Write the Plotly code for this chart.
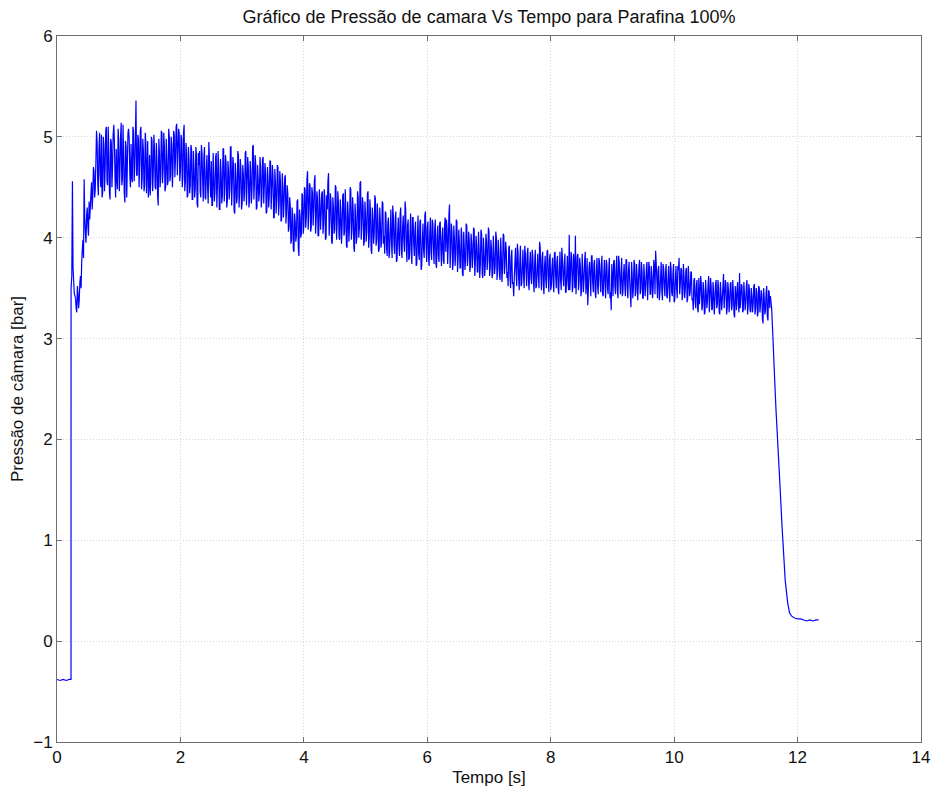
import plotly.graph_objects as go

# ---- chamber pressure record, paraffin 100% ----

# ignition transient: zero offset, step and first overshoot
t_pre = [0.00, 0.05, 0.10, 0.15, 0.20, 0.227, 0.228, 0.24, 0.25, 0.26, 0.28, 0.30]
p_pre = [-0.38, -0.39, -0.38, -0.39, -0.38, -0.38, 3.50, 3.62, 4.56, 3.70, 3.45, 3.40]

# steady burn, sampled every 0.01 s from t = 0.30 s.
# each block holds one second: the "a" list the even samples (0.30, 0.32, ...),
# the "b" list the odd samples in between (0.31, 0.33, ...)
burn_t0 = 0.30
burn_dt = 0.01

p_burn_01a = [3.40, 3.26, 3.45, 3.38, 3.62, 3.75, 3.98, 4.58, 4.05, 4.22,
              4.12, 4.36, 4.30, 4.55, 4.42, 4.66, 4.48, 5.06, 4.55, 4.88,
              4.62, 5.02, 4.45, 4.92, 4.68, 5.10, 4.52, 4.85, 4.38, 4.95,
              4.70, 5.12, 4.60, 4.88, 4.48, 4.97, 4.66, 5.14, 4.58, 4.82,
              4.35, 4.90, 4.72, 5.08, 4.62, 4.93, 4.55, 5.05, 4.70, 5.36]
p_burn_01b = [3.30, 3.52, 3.30, 3.55, 3.50, 3.88, 3.80, 4.20, 3.95, 4.30,
              4.02, 4.18, 4.44, 4.28, 4.70, 4.40, 4.75, 4.95, 4.42, 5.04,
              4.50, 4.40, 5.00, 4.46, 5.06, 4.56, 5.10, 4.44, 4.98, 4.50,
              5.02, 4.96, 4.40, 4.58, 5.08, 4.46, 5.00, 4.52, 5.12, 4.44,
              4.96, 4.40, 5.04, 4.98, 4.50, 4.60, 5.10, 4.56, 5.00, 4.62]

p_burn_02a = [4.62, 4.98, 4.75, 5.10, 4.58, 4.86, 4.52, 4.94, 4.66, 4.40,
              4.82, 4.55, 4.96, 4.64, 4.88, 4.48, 4.76, 4.32, 4.84, 4.60,
              5.04, 4.68, 4.90, 4.50, 4.78, 4.56, 5.00, 4.62, 4.92, 4.70,
              5.02, 4.78, 5.13, 4.85, 5.04, 4.66, 4.98, 4.60, 5.12, 4.55,
              4.84, 4.42, 4.76, 4.52, 4.88, 4.38, 4.70, 4.48, 4.82, 4.30]
p_burn_02b = [5.02, 4.50, 5.06, 4.48, 4.98, 4.46, 5.04, 4.44, 4.96, 4.52,
              4.42, 5.00, 4.46, 5.02, 4.50, 4.94, 4.42, 4.98, 4.50, 5.06,
              4.54, 5.04, 4.46, 4.98, 4.52, 5.08, 4.56, 5.00, 4.50, 5.06,
              4.60, 5.10, 4.62, 5.08, 4.56, 5.02, 4.50, 5.04, 4.46, 4.94,
              4.40, 4.90, 4.44, 4.92, 4.38, 4.86, 4.40, 4.90, 4.34, 4.84]

p_burn_03a = [4.72, 4.45, 4.92, 4.58, 4.80, 4.40, 4.68, 4.50, 4.95, 4.55,
              4.76, 4.32, 4.62, 4.46, 4.84, 4.52, 4.70, 4.28, 4.64, 4.42,
              4.88, 4.50, 4.74, 4.36, 4.66, 4.48, 4.90, 4.54, 4.72, 4.24,
              4.60, 4.40, 4.82, 4.46, 4.68, 4.34, 4.62, 4.44, 4.86, 4.52,
              4.70, 4.38, 4.64, 4.48, 4.92, 4.56, 4.74, 4.30, 4.58, 4.45]
p_burn_03b = [4.86, 4.40, 4.84, 4.36, 4.90, 4.38, 4.82, 4.34, 4.80, 4.40,
              4.32, 4.84, 4.36, 4.80, 4.30, 4.86, 4.28, 4.78, 4.34, 4.88,
              4.36, 4.82, 4.30, 4.76, 4.38, 4.90, 4.32, 4.80, 4.26, 4.74,
              4.34, 4.86, 4.30, 4.78, 4.28, 4.72, 4.36, 4.84, 4.32, 4.80,
              4.30, 4.76, 4.34, 4.90, 4.38, 4.82, 4.28, 4.72, 4.36, 4.80]

p_burn_04a = [4.68, 4.40, 4.80, 4.52, 4.64, 4.26, 4.58, 4.42, 4.76, 4.46,
              4.62, 4.20, 4.54, 4.38, 4.70, 4.34, 4.56, 4.18, 4.50, 4.36,
              4.62, 4.28, 4.44, 4.10, 4.32, 3.98, 4.22, 3.86, 4.16, 4.02,
              4.38, 3.82, 4.20, 4.04, 4.42, 4.12, 4.48, 4.20, 4.66, 4.24,
              4.52, 4.10, 4.44, 4.28, 4.62, 4.18, 4.40, 4.02, 4.36, 4.22]
p_burn_04b = [4.30, 4.78, 4.34, 4.74, 4.24, 4.70, 4.30, 4.76, 4.28, 4.72,
              4.20, 4.68, 4.24, 4.72, 4.22, 4.66, 4.16, 4.64, 4.20, 4.60,
              4.14, 4.52, 4.06, 4.40, 3.94, 4.30, 3.88, 4.24, 3.96, 4.36,
              3.90, 4.28, 4.00, 4.44, 4.04, 4.50, 4.10, 4.58, 4.08, 4.54,
              4.06, 4.50, 4.12, 4.56, 4.04, 4.46, 4.02, 4.48, 4.08, 4.44]

p_burn_05a = [4.46, 4.14, 4.40, 4.00, 4.28, 4.64, 4.18, 4.36, 3.94, 4.30,
              4.08, 4.50, 4.16, 4.34, 3.98, 4.24, 4.10, 4.44, 4.06, 4.30,
              3.90, 4.22, 4.12, 4.48, 4.08, 4.26, 3.86, 4.20, 4.02, 4.40,
              4.10, 4.56, 4.14, 4.32, 3.96, 4.22, 4.06, 4.46, 4.00, 4.26,
              3.84, 4.18, 4.04, 4.38, 3.98, 4.20, 3.88, 4.14, 3.96, 4.34]
p_burn_05b = [4.04, 4.48, 3.98, 4.42, 4.56, 4.02, 4.44, 3.96, 4.40, 4.04,
              4.52, 3.98, 4.46, 4.00, 4.38, 3.94, 4.42, 4.02, 4.48, 3.92,
              4.36, 3.96, 4.50, 3.98, 4.40, 3.90, 4.34, 3.94, 4.46, 4.00,
              4.54, 3.98, 4.40, 3.92, 4.36, 3.96, 4.44, 3.90, 4.38, 3.88,
              4.30, 3.94, 4.42, 3.92, 4.34, 3.86, 4.30, 3.90, 4.36, 3.94]

p_burn_06a = [4.02, 4.26, 3.90, 4.14, 3.80, 4.08, 3.96, 4.32, 3.94, 4.18,
              3.76, 4.06, 3.92, 4.24, 3.88, 4.10, 3.98, 4.36, 3.90, 4.12,
              3.78, 4.04, 3.86, 4.20, 3.94, 4.08, 3.72, 4.00, 3.84, 4.16,
              3.68, 3.98, 3.88, 4.22, 3.92, 4.10, 3.80, 4.04, 3.86, 4.18,
              3.90, 4.08, 3.74, 4.02, 3.82, 4.14, 3.88, 4.00, 3.78, 4.12]
p_burn_06b = [3.84, 4.24, 3.82, 4.20, 3.86, 4.28, 3.80, 4.22, 3.84, 4.26,
              3.78, 4.20, 3.82, 4.30, 3.80, 4.22, 3.86, 4.28, 3.76, 4.18,
              3.80, 4.24, 3.74, 4.20, 3.82, 4.16, 3.74, 4.22, 3.78, 4.18,
              3.72, 4.14, 3.80, 4.26, 3.76, 4.16, 3.72, 4.20, 3.78, 4.14,
              3.74, 4.18, 3.70, 4.12, 3.76, 4.16, 3.72, 4.10, 3.74, 4.20]

p_burn_07a = [3.86, 4.10, 3.92, 4.33, 3.88, 4.06, 3.76, 3.98, 3.84, 4.16,
              3.80, 3.96, 3.70, 4.02, 3.62, 3.90, 3.78, 4.12, 3.82, 3.98,
              3.72, 3.94, 3.80, 4.08, 3.76, 3.92, 3.66, 3.88, 3.74, 4.04,
              3.60, 3.86, 3.72, 3.96, 3.78, 4.06, 3.70, 3.90, 3.64, 3.84,
              3.72, 4.00, 3.68, 3.86, 3.58, 3.82, 3.70, 4.02, 3.74, 3.88]
p_burn_07b = [4.18, 3.74, 4.22, 3.70, 4.14, 3.68, 4.12, 3.72, 4.18, 3.66,
              4.08, 3.70, 4.10, 3.64, 4.06, 3.68, 4.14, 3.72, 4.06, 3.66,
              4.04, 3.70, 4.10, 3.62, 4.02, 3.66, 4.06, 3.60, 4.08, 3.64,
              4.00, 3.62, 4.04, 3.68, 4.10, 3.62, 3.98, 3.60, 4.02, 3.64,
              4.06, 3.58, 3.98, 3.62, 4.00, 3.56, 4.04, 3.64, 3.96, 3.60]

p_burn_08a = [3.66, 3.90, 3.62, 3.80, 3.54, 3.42, 3.76, 3.64, 3.94, 3.60,
              3.78, 3.52, 3.72, 3.62, 3.92, 3.66, 3.84, 3.56, 3.74, 3.60,
              3.88, 3.58, 3.76, 3.50, 3.70, 3.62, 3.96, 3.64, 3.80, 3.54,
              3.72, 3.58, 3.86, 3.60, 3.78, 3.48, 3.70, 3.56, 3.84, 3.62,
              3.76, 3.50, 3.68, 3.58, 3.90, 3.60, 3.74, 3.46, 3.66, 3.56]
p_burn_08b = [3.52, 3.92, 3.50, 3.88, 3.56, 3.60, 3.90, 3.52, 3.86, 3.48,
              3.92, 3.54, 3.88, 3.50, 3.84, 3.52, 3.90, 3.48, 3.86, 3.54,
              3.82, 3.46, 3.88, 3.52, 3.84, 3.50, 3.90, 3.48, 3.86, 3.44,
              3.82, 3.50, 3.88, 3.46, 3.84, 3.52, 3.80, 3.46, 3.86, 3.50,
              3.82, 3.44, 3.86, 3.48, 3.80, 3.52, 3.84, 3.46, 3.82, 3.48]

p_burn_09a = [4.03, 3.62, 3.80, 3.52, 3.74, 4.02, 3.66, 3.84, 3.56, 3.72,
              3.48, 3.68, 3.58, 3.86, 3.54, 3.33, 3.70, 3.60, 3.82, 3.56,
              3.74, 3.46, 3.66, 3.52, 3.80, 3.58, 3.72, 3.44, 3.64, 3.54,
              3.78, 3.50, 3.68, 3.40, 3.28, 3.62, 3.76, 3.52, 3.70, 3.48,
              3.82, 3.58, 3.66, 3.42, 3.64, 3.54, 3.78, 3.50, 3.68, 3.56]
p_burn_09b = [3.48, 3.86, 3.46, 3.84, 3.50, 3.44, 3.82, 3.48, 3.80, 3.42,
              3.84, 3.46, 3.78, 3.44, 3.80, 3.48, 3.76, 3.42, 3.82, 3.46,
              3.78, 3.40, 3.80, 3.44, 3.76, 3.46, 3.82, 3.42, 3.78, 3.40,
              3.74, 3.44, 3.80, 3.46, 3.74, 3.42, 3.78, 3.44, 3.82, 3.40,
              3.76, 3.44, 3.80, 3.46, 3.74, 3.42, 3.78, 3.40, 3.76, 3.44]

p_burn_10a = [3.31, 3.64, 3.50, 3.74, 3.46, 3.62, 3.54, 3.78, 3.48, 3.66,
              3.40, 3.60, 3.52, 3.76, 3.56, 3.70, 3.44, 3.62, 3.50, 3.72,
              3.87, 3.58, 3.68, 3.38, 3.60, 3.48, 3.74, 3.52, 3.66, 3.42,
              3.58, 3.50, 3.76, 3.46, 3.64, 3.36, 3.58, 3.50, 3.72, 3.80,
              3.54, 3.68, 3.44, 3.62, 3.48, 3.70, 3.40, 3.58, 3.46, 3.66]
p_burn_10b = [3.76, 3.40, 3.78, 3.42, 3.74, 3.38, 3.72, 3.44, 3.76, 3.40,
              3.74, 3.42, 3.70, 3.38, 3.76, 3.44, 3.72, 3.40, 3.78, 3.44,
              3.74, 3.40, 3.72, 3.46, 3.76, 3.38, 3.70, 3.42, 3.74, 3.40,
              3.72, 3.36, 3.70, 3.42, 3.74, 3.38, 3.72, 3.40, 3.68, 3.44,
              3.70, 3.38, 3.74, 3.40, 3.68, 3.36, 3.72, 3.42, 3.66, 3.38]

p_burn_11a = [3.40, 3.58, 3.36, 3.52, 3.30, 3.60, 3.44, 3.54, 3.32, 3.48,
              3.26, 3.46, 3.38, 3.62, 3.40, 3.52, 3.30, 3.46, 3.36, 3.58,
              3.34, 3.50, 3.24, 3.44, 3.38, 3.64, 3.42, 3.54, 3.30, 3.48,
              3.36, 3.56, 3.32, 3.46, 3.21, 3.42, 3.50, 3.34, 3.65, 3.40,
              3.52, 3.28, 3.44, 3.36, 3.58, 3.32, 3.48, 3.26, 3.42, 3.34]
p_burn_11b = [3.28, 3.60, 3.30, 3.58, 3.26, 3.34, 3.62, 3.28, 3.56, 3.24,
              3.58, 3.30, 3.54, 3.26, 3.60, 3.28, 3.56, 3.24, 3.54, 3.30,
              3.58, 3.26, 3.56, 3.28, 3.52, 3.30, 3.58, 3.24, 3.56, 3.26,
              3.54, 3.28, 3.58, 3.24, 3.52, 3.28, 3.56, 3.26, 3.30, 3.54,
              3.26, 3.56, 3.28, 3.52, 3.24, 3.54, 3.28, 3.50, 3.26, 3.52]

p_burn_12a = [3.54, 3.30, 3.46, 3.26, 3.50, 3.34, 3.44, 3.15, 3.40, 3.28,
              3.52, 3.18, 3.46, 3.42]
p_burn_12b = [3.24, 3.50, 3.22, 3.52, 3.26, 3.48, 3.20, 3.50, 3.24, 3.46,
              3.22, 3.48, 3.30]

# tail-off after burnout
t_tail = [11.56, 11.58, 11.60, 11.62, 11.65, 11.70, 11.75, 11.80, 11.84, 11.87,
          11.90, 11.95, 12.00, 12.05, 12.10, 12.15, 12.20, 12.25, 12.30, 12.34]
p_tail = [3.42, 3.30, 3.02, 2.72, 2.30, 1.72, 1.12, 0.60, 0.38, 0.28,
          0.25, 0.23, 0.22, 0.22, 0.21, 0.20, 0.21, 0.20, 0.21, 0.21]

x_ticks = [0, 2, 4, 6, 8, 10, 12, 14]
y_ticks = [-1, 0, 1, 2, 3, 4, 5, 6]


def merge_samples(even, odd):
    """Put the even and odd samples of one block back in time order."""
    out = []
    for i, v in enumerate(even):
        out.append(v)
        if i < len(odd):
            out.append(odd[i])
    return out


burn_blocks = [
    (p_burn_01a, p_burn_01b), (p_burn_02a, p_burn_02b), (p_burn_03a, p_burn_03b),
    (p_burn_04a, p_burn_04b), (p_burn_05a, p_burn_05b), (p_burn_06a, p_burn_06b),
    (p_burn_07a, p_burn_07b), (p_burn_08a, p_burn_08b), (p_burn_09a, p_burn_09b),
    (p_burn_10a, p_burn_10b), (p_burn_11a, p_burn_11b), (p_burn_12a, p_burn_12b),
]
p_burn = []
for even, odd in burn_blocks:
    p_burn += merge_samples(even, odd)

LINE = dict(color="#0000ff", width=1.2, simplify=False)
FONT = "Liberation Sans, Arial, Helvetica, sans-serif"
TXT = "#111111"

fig = go.Figure()
fig.add_trace(go.Scatter(x=t_pre, y=p_pre, mode="lines", line=LINE, showlegend=False))
fig.add_trace(go.Scatter(x0=burn_t0, dx=burn_dt, y=p_burn, mode="lines", line=LINE,
                         showlegend=False))
fig.add_trace(go.Scatter(x=t_tail, y=p_tail, mode="lines", line=LINE, showlegend=False))

axis_common = dict(
    showline=True, linecolor="#6e6e6e", linewidth=1, mirror="ticks",
    ticks="inside", ticklen=5, tickwidth=1, tickcolor="#6e6e6e",
    showgrid=True, gridcolor="#d6d6d6", griddash="1px,2px", gridwidth=1,
    zeroline=False, tickfont=dict(family=FONT, size=17, color=TXT),
)

fig.update_xaxes(range=[0, 14], tickvals=x_ticks, **axis_common,
                 title=dict(text="Tempo [s]", font=dict(family=FONT, size=17, color=TXT),
                            standoff=4))
fig.update_yaxes(range=[-1, 6], tickvals=y_ticks, **axis_common,
                 title=dict(text="Pressão de câmara [bar]",
                            font=dict(family=FONT, size=17, color=TXT), standoff=5))

fig.update_layout(
    width=931, height=787,
    margin=dict(l=57, r=10, t=36, b=45, autoexpand=False),
    paper_bgcolor="white", plot_bgcolor="white",
    title=dict(text="Gráfico de Pressão de camara Vs Tempo para Parafina 100%",
               font=dict(family=FONT, size=18, color=TXT),
               x=0.5, xref="paper", xanchor="center",
               y=1 - 17 / 787, yref="container", yanchor="middle"),
)

fig.write_html("out.html")
